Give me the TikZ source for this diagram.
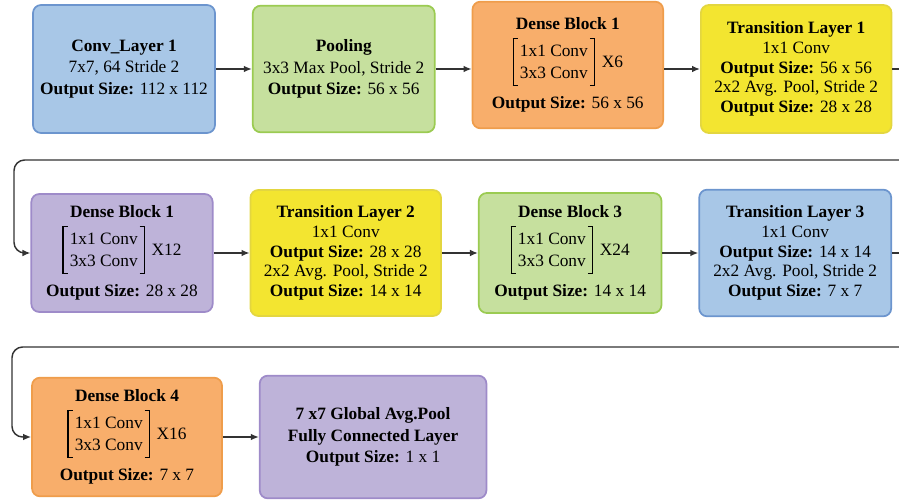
\documentclass[tikz,border=0pt]{standalone}
\usepackage{fontspec}
\setmainfont{Liberation Serif}
\usetikzlibrary{arrows.meta,positioning}

\definecolor{blueFill}{HTML}{A8C7E7}
\definecolor{blueLine}{HTML}{6C95CE}
\definecolor{greenFill}{HTML}{C6E09E}
\definecolor{greenLine}{HTML}{9BCB52}
\definecolor{orangeFill}{HTML}{F8AE6B}
\definecolor{orangeLine}{HTML}{EF9D4B}
\definecolor{yellowFill}{HTML}{F3E530}
\definecolor{yellowLine}{HTML}{E3D640}
\definecolor{purpleFill}{HTML}{BEB3D9}
\definecolor{purpleLine}{HTML}{9E8BC9}
\definecolor{wireGray}{HTML}{333333}

% square brackets drawn from rules
\newcommand{\lbrk}{\rule[-14pt]{0.8pt}{36pt}\hspace{-0.8pt}\rule[-14pt]{4pt}{0.8pt}\hspace{-4pt}\rule[21.2pt]{4pt}{0.8pt}}
\newcommand{\rbrk}{\rule[21.2pt]{4pt}{0.8pt}\hspace{-4pt}\rule[-14pt]{4pt}{0.8pt}\hspace{-0.8pt}\rule[-14pt]{0.8pt}{36pt}}
\newcommand{\convpair}[1]{\lbrk\hspace{1.5pt}\begin{tabular}{@{}c@{}}1x1 Conv\\3x3 Conv\end{tabular}\hspace{1.5pt}\rbrk\hspace{5pt}#1}

\begin{document}
\begin{tikzpicture}[x=0.75pt, y=-0.75pt, >={Latex[length=6pt,width=5pt]}, node distance=27pt,
  blk/.style={draw, rounded corners=6pt, line width=1.3pt, align=center, inner sep=2pt,
    font=\fontsize{13}{16}\selectfont},
  tall/.style={font=\fontsize{13}{14.8}\selectfont},
  bluebox/.style={blk, fill=blueFill, draw=blueLine},
  greenbox/.style={blk, fill=greenFill, draw=greenLine},
  orangebox/.style={blk, fill=orangeFill, draw=orangeLine},
  yellowbox/.style={blk, tall, fill=yellowFill, draw=yellowLine},
  purplebox/.style={blk, fill=purpleFill, draw=purpleLine},
  link/.style={draw=wireGray, line width=1.1pt},
  flow/.style={link, ->}]
  \useasboundingbox (0,0) rectangle (899,502);

  % first row
  \node[bluebox, minimum width=136.5pt, minimum height=96pt] (conv) at (124,69)
    {\textbf{Conv\_Layer 1}\\7x7, 64 Stride 2\\\textbf{Output Size:} 112 x 112};
  \node[greenbox, minimum width=136.5pt, minimum height=95pt, right=of conv] (pool)
    {\textbf{Pooling}\\3x3 Max Pool, Stride 2\\\textbf{Output Size:} 56 x 56};
  \node[orangebox, minimum width=143pt, minimum height=95pt, right=of pool, yshift=3pt] (dense1)
    {\textbf{Dense Block 1}\\[5pt]\convpair{X6}\\[7pt]\textbf{Output Size:} 56 x 56};
  \node[yellowbox, minimum width=143pt, minimum height=96pt, right=of pool.east -| dense1.east] (trans1)
    {\textbf{Transition Layer 1}\\1x1 Conv\\\textbf{Output Size:} 56 x 56\\2x2 Avg. Pool, Stride 2\\\textbf{Output Size:} 28 x 28};

  % second row
  \node[purplebox, minimum width=136pt, minimum height=88.5pt] (dense2) at (122,253)
    {\textbf{Dense Block 1}\\[5pt]\convpair{X12}\\[7pt]\textbf{Output Size:} 28 x 28};
  \node[yellowbox, minimum width=143pt, minimum height=94.5pt, right=of dense2] (trans2)
    {\textbf{Transition Layer 2}\\1x1 Conv\\\textbf{Output Size:} 28 x 28\\2x2 Avg. Pool, Stride 2\\\textbf{Output Size:} 14 x 14};
  \node[greenbox, minimum width=137pt, minimum height=90pt, right=of trans2] (dense3)
    {\textbf{Dense Block 3}\\[5pt]\convpair{X24}\\[7pt]\textbf{Output Size:} 14 x 14};
  \node[bluebox, tall, minimum width=144pt, minimum height=95pt, right=of dense3] (trans3)
    {\textbf{Transition Layer 3}\\1x1 Conv\\\textbf{Output Size:} 14 x 14\\2x2 Avg. Pool, Stride 2\\\textbf{Output Size:} 7 x 7};

  % third row
  \node[orangebox, minimum width=142.5pt, minimum height=89pt] (dense4) at (127,437)
    {\textbf{Dense Block 4}\\[5pt]\convpair{X16}\\[7pt]\textbf{Output Size:} 7 x 7};
  \node[purplebox, minimum width=170pt, minimum height=92pt, right=of dense4] (head)
    {\textbf{7 x7 Global Avg.Pool}\\\textbf{Fully Connected Layer}\\\textbf{Output Size:} 1 x 1};

  \coordinate (edge1) at (899,69);
  \coordinate (back1) at (899,160);
  \coordinate (edge2) at (899,253);
  \coordinate (back2) at (899,347);

  \draw[flow] (conv) -- (pool);
  \draw[flow] (pool) -- (pool -| dense1.west);
  \draw[flow] (trans1 -| dense1.east) -- (trans1);
  \draw[link] (trans1) -- (edge1);
  \draw[flow, rounded corners=8pt] (back1) -- (14,160) |- (dense2);
  \draw[flow] (dense2) -- (trans2);
  \draw[flow] (trans2) -- (dense3);
  \draw[flow] (dense3) -- (trans3);
  \draw[link] (trans3) -- (edge2);
  \draw[flow, rounded corners=8pt] (back2) -- (12,347) |- (dense4);
  \draw[flow] (dense4) -- (head);
\end{tikzpicture}
\end{document}
